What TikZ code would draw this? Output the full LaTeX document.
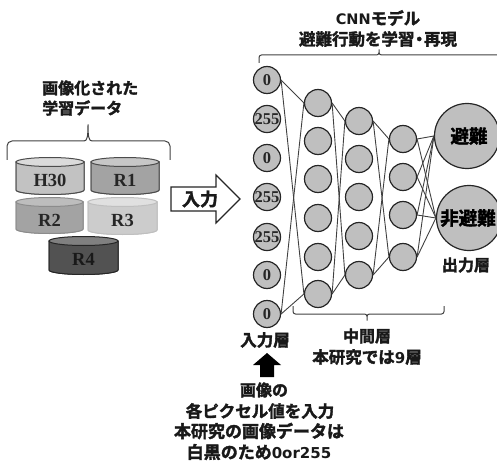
\documentclass[tikz,border=0pt]{standalone}
\usepackage{fontspec}
\setmainfont{Noto Sans CJK JP}
\newfontfamily\latinserif{Liberation Serif}[BoldFont={Liberation Serif Bold}]
\newfontfamily\cjkbold{Noto Sans CJK JP Bold}[FakeBold=2]
\newfontfamily\wide{DejaVu Sans Bold}
\tikzset{
  jp/.style={font=\cjkbold\fontsize{#1}{#1}\selectfont,text=black!90,inner sep=0pt,align=center},
  jp/.default=16,
  unit/.style={circle,draw=black!85,line width=1.2pt,fill=black!25,inner sep=0pt,minimum size=#1,
    font=\latinserif\bfseries\fontsize{16.5}{16.5}\selectfont,text=black!85},
  link/.style={draw=black!75,line width=0.9pt},
  bracket/.style={draw=black!75,line width=1pt,rounded corners=2.5pt},
  cyllabel/.style={font=\latinserif\bfseries\fontsize{18.5}{18.5}\selectfont,text=#1,inner sep=0pt},
}
\newcommand{\cyl}[9]{% x1,x2,ytop,ybot,body,top,edge,label,labelcolor
  \pgfmathsetmacro{\xm}{(#1+#2)/2}
  \pgfmathsetmacro{\xr}{(#2-#1)/2}
  \path[fill=#5,draw=#7,line width=1pt] (#1,#3) -- (#1,#4-4) arc[start angle=180,end angle=360,x radius=\xr,y radius=-4.5] -- (#2,#3) -- cycle;
  \path[fill=#5,draw=#7,line width=1pt] (#1,#4-4) arc[start angle=180,end angle=0,x radius=\xr,y radius=4.5] -- (#2,#3) -- (#1,#3) -- cycle;
  \path[fill=#6,draw=#7,line width=1pt] (\xm,#3) ellipse[x radius=\xr,y radius=4.5];
  \node[cyllabel=#9] (l#8) at (\xm,#3+18.5) {#8};
}
\begin{document}
\begin{tikzpicture}[x=1pt,y=-1pt]
\path[use as bounding box] (0,0) rectangle (497,462);
% titles
\node[jp=16.5] (t1) at (378,18) {{\wide\fontsize{14.5}{14.5}\selectfont CNN}モデル};
\node[jp=16.5] (t2) at (378,39) {避難行動を学習\kern-3.5pt・\kern-3.5pt再現};
\node[jp,anchor=west] (d1) at (42,88) {画像化された};
\node[jp,anchor=west] (d2) at (42,108) {学習データ};
% brackets
\draw[bracket] (259,63) |- (379,55) -- (379,48) -- (379,55) -| (505,63);
\draw[bracket,rounded corners=5pt] (7,160) |- (84,141);
\draw[bracket] (84,141) .. controls (87,141) and (88,137) .. (88,123) .. controls (88,137) and (89,141) .. (92,141);
\draw[bracket,rounded corners=5pt] (92,141) -| (170,160);
\draw[bracket] (293,306) |- (367,314) -- (367,322) -- (367,314) -| (444,306);
% cylinders
\cyl{16}{84}{162}{194}{black!24}{black!14}{black!70}{H30}{black!85}
\cyl{91}{159}{162}{194}{black!36}{black!22}{black!70}{R1}{black!85}
\cyl{16}{83}{202}{233}{black!36}{black!26}{black!45}{R2}{black!85}
\cyl{88}{157}{202}{234}{black!20}{black!12}{black!25}{R3}{black!85}
\cyl{49}{118}{241}{274}{black!68}{black!50}{black!85}{R4}{black!90}
% input arrow
\draw[black!85,line width=1.1pt,fill=white] (171,187) -- (216,187) -- (216,175) -- (240,199) -- (216,223) -- (216,211) -- (171,211) -- cycle;
\node[jp=18] (inp) at (200,199) {入力};
% layers
\foreach \n/\y/\t in {1/80/0,2/119/255,3/158/0,4/197/255,5/237/255,6/275/0,7/314/0}
  \node[unit=27pt] (a\n) at (267,\y) {\t};
\foreach \n/\y in {1/103,2/141,3/179,4/218,5/257,6/294}
  \node[unit=27pt] (b\n) at (318,\y) {};
\foreach \n/\y in {1/121,2/159,3/197,4/236,5/275}
  \node[unit=27pt] (c\n) at (359,\y) {};
\foreach \n/\y in {1/139,2/177,3/215,4/257}
  \node[unit=27pt] (e\n) at (403,\y) {};
\node[unit=65pt] (o1) at (467,136) {};
\node[unit=65pt] (o2) at (469,218) {};
% connectors
\foreach \p/\q in {a1/b1,a1/b6,a7/b1,a7/b6,b1/c1,b1/c5,b6/c1,b6/c5,c1/e1,c1/e4,c5/e1,c5/e4,
  e1/o1,e2/o1,e3/o1,e4/o1,e1/o2,e2/o2,e3/o2,e4/o2}
  \draw[link] (\p.east) -- (\q.west);
\node[jp=18.5,text=black] (ol1) at (469,136) {避難};
\node[jp=18.5,text=black] (ol2) at (468,218) {非避難};
% captions
\node[jp] (cout) at (466,265) {出力層};
\node[jp] (cmid1) at (367,336) {中間層};
\node[jp=16.5] (cmid2) at (367,357) {本研究では{\wide\fontsize{15}{15}\selectfont 9}層};
\node[jp=16.5] (cin) at (265,340) {入力層};
\draw[fill=black,draw=none] (267,353) -- (281,365) -- (274,365) -- (274,377) -- (260,377) -- (260,365) -- (253,365) -- cycle;
\node[jp] (n1) at (264,390) {画像の};
\node[jp=16.5] (n2) at (260,411) {各ピクセル値を入力};
\node[jp=17] (n3) at (259,431) {本研究の画像データは};
\node[jp=17] (n4) at (259,452) {白黒のため{\wide\fontsize{15}{15}\selectfont 0or255}};
\end{tikzpicture}
\end{document}
